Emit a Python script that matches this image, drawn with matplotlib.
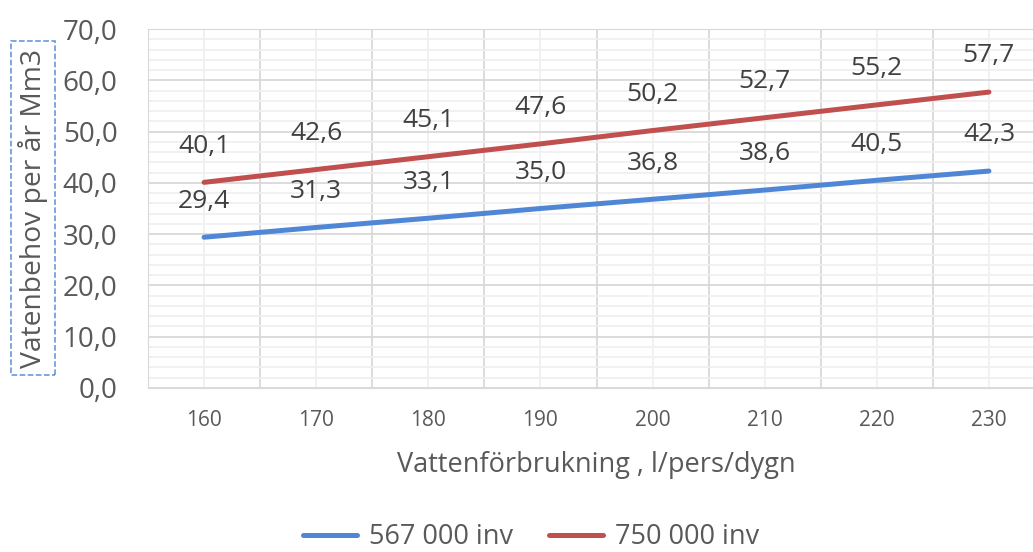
import matplotlib
matplotlib.use("Agg")
import matplotlib.pyplot as plt
from matplotlib.ticker import MultipleLocator, FuncFormatter

consumption = [160, 170, 180, 190, 200, 210, 220, 230]
pop_567k = [29.4, 31.3, 33.1, 35.0, 36.8, 38.6, 40.5, 42.3]
pop_750k = [40.1, 42.6, 45.1, 47.6, 50.2, 52.7, 55.2, 57.7]
series_names = ["567 000 inv", "750 000 inv"]

plt.rcParams['font.family'] = ['Open Sans', 'DejaVu Sans']
TXT = "#595959"
LBL = "#404040"

W, H = 1033, 552
fig = plt.figure(figsize=(W / 100, H / 100), dpi=100)
# plot area in pixels: left 148, right 1045, top 29, bottom 388
left, right, top, bottom = 148, 1045, 29, 388
ax = fig.add_axes([left / W, 1 - bottom / H, (right - left) / W, (bottom - top) / H])

x = list(range(len(consumption)))
ax.set_xlim(-0.5, len(consumption) - 0.5)
ax.set_ylim(0, 70)

ax.yaxis.set_major_locator(MultipleLocator(10))
ax.yaxis.set_minor_locator(MultipleLocator(2))
ax.set_xticks(x)
ax.set_xticklabels([str(c) for c in consumption])
ax.set_xticks([i + 0.5 for i in range(-1, len(consumption))], minor=True)

ax.yaxis.set_major_formatter(FuncFormatter(lambda v, p: f"{v:.1f}".replace(".", ",")))

ax.grid(which='major', axis='y', color="#D9D9D9", lw=1.3)
ax.grid(which='minor', axis='y', color="#F0F0F0", lw=1.3)
ax.grid(which='minor', axis='x', color="#D9D9D9", lw=1.3)
ax.grid(which='major', axis='x', color="#F0F0F0", lw=1.3)
ax.set_axisbelow(True)

for s in ax.spines.values():
    s.set_visible(False)
for name in ('left', 'bottom', 'top'):
    ax.spines[name].set_visible(True)
    ax.spines[name].set_color("#D9D9D9")

ax.tick_params(axis='both', which='both', length=0)
ax.tick_params(axis='y', labelsize=20, labelcolor=TXT, pad=22)
ax.tick_params(axis='x', labelsize=15, labelcolor=TXT, pad=16)

l1, = ax.plot(x, pop_567k, color="#4F87D6", lw=3.6, solid_capstyle='round', label=series_names[0])
l2, = ax.plot(x, pop_750k, color="#C0504D", lw=3.6, solid_capstyle='round', label=series_names[1])

for series in (pop_567k, pop_750k):
    for xi, v in zip(x, series):
        ax.annotate(f"{v:.1f}".replace(".", ","), (xi, v), xytext=(0, 26),
                    textcoords='offset points', ha='center', va='center',
                    fontsize=19, color=LBL)

ax.set_xlabel("Vattenförbrukning , l/pers/dygn", fontsize=19.5, color=TXT, labelpad=14)

fig.text(33 / W, 1 - 208 / H, "Vatenbehov per år Mm3", rotation=90, fontsize=20.3,
         color=TXT, ha='center', va='center',
         bbox=dict(boxstyle='square,pad=0.25', fc='none', ec="#5B8ED6", ls='--', lw=1.1))

leg = fig.legend(handles=[l1, l2], loc='center', bbox_to_anchor=(0.514, 1 - 537 / H),
                 ncol=2, frameon=False, fontsize=19.5, handlelength=2.0,
                 columnspacing=1.3, handletextpad=0.45)
for t in leg.get_texts():
    t.set_color(TXT)

fig.savefig("out.png", dpi=100)
